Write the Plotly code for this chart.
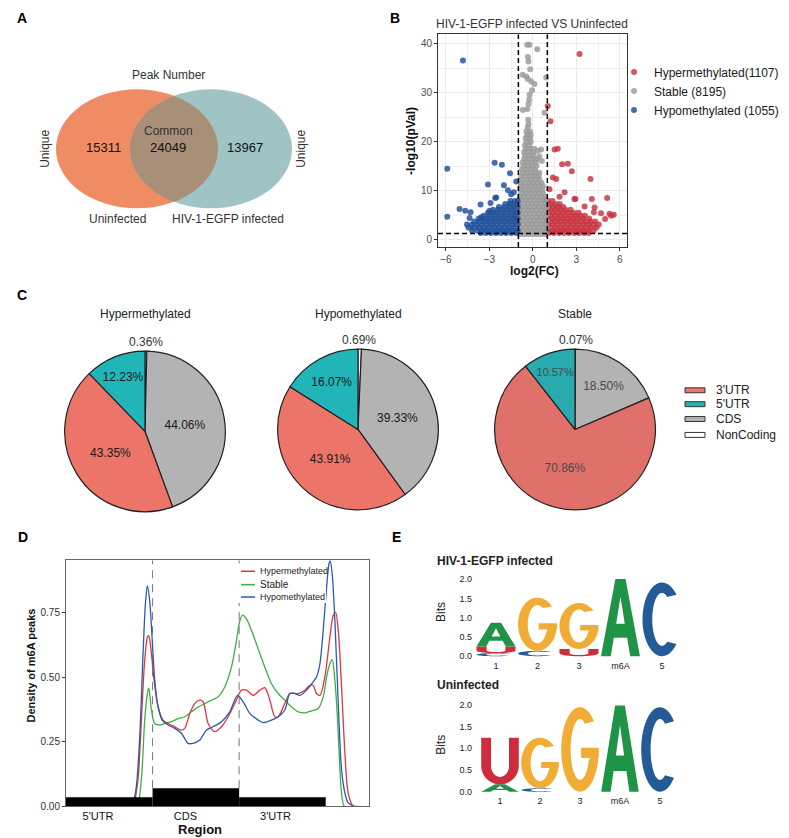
import numpy as np
import plotly.graph_objects as go

W, H = 789, 838
FONT = "Arial, Liberation Sans, sans-serif"

# ---------------- A: Venn (peak numbers) ----------------
venn_sets = ["Uninfected", "HIV-1-EGFP infected"]
venn_counts = [15311, 24049, 13967]  # unique uninfected, common, unique infected

# ---------------- B: volcano ----------------
volcano_groups = ["Hypermethylated", "Stable", "Hypomethylated"]
volcano_counts = [1107, 8195, 1055]
fc_cut = 1.0
p_cut = 1.3

hyper_rows = [
    (1.4, [1.1, 1.45, 1.8, 2.15, 2.5, 2.85, 3.2, 3.55, 3.85]),
    (1.9, [1.05, 1.4, 1.75, 2.1, 2.45, 2.8, 3.15, 3.5, 3.85, 4.2]),
    (2.5, [1.2, 1.55, 1.9, 2.25, 2.6, 2.95, 3.3, 3.65, 4.0, 4.4]),
    (3.1, [1.05, 1.4, 1.75, 2.1, 2.45, 2.8, 3.15, 3.5, 3.85, 4.2, 4.55]),
    (3.7, [1.15, 1.5, 1.85, 2.2, 2.55, 2.9, 3.25, 3.6, 3.95, 4.3]),
    (4.3, [1.05, 1.4, 1.75, 2.1, 2.45, 2.8, 3.15, 3.5, 3.9]),
    (4.9, [1.2, 1.55, 1.9, 2.25, 2.6, 2.95, 3.3, 3.6]),
    (5.5, [1.05, 1.4, 1.75, 2.1, 2.45, 2.8, 3.15]),
    (6.1, [1.2, 1.55, 1.9, 2.25, 2.6]),
    (6.7, [1.05, 1.4, 1.75, 2.1]),
    (7.3, [1.2, 1.55, 1.85]),
    (7.9, [1.05, 1.35]),
]
hyper_out_x = [3.22, 1.03, 1.22, 1.5, 1.72, 2.02, 2.41, 2.69, 1.38, 1.61, 3.98, 1.15, 2.19,
               2.87, 4.07, 5.13, 3.57, 4.26, 4.71, 5.29, 5.59, 4.99, 1.84, 2.94, 5.4, 4.21]
hyper_out_y = [37.9, 27.3, 24.2, 18.4, 18.6, 15.4, 15.5, 14.0, 12.7, 12.4, 12.4, 10.3, 9.7,
               8.3, 8.3, 8.5, 6.8, 6.6, 5.4, 5.3, 5.1, 4.25, 8.8, 8.3, 4.9, 5.6]

hypo_rows = [
    (1.4, [-3.6, -3.25, -2.9, -2.55, -2.2, -1.85, -1.5, -1.15]),
    (1.9, [-4.2, -3.85, -3.5, -3.15, -2.8, -2.45, -2.1, -1.75, -1.4, -1.05]),
    (2.5, [-4.45, -4.1, -3.75, -3.4, -3.05, -2.7, -2.35, -2.0, -1.65, -1.3]),
    (3.1, [-4.55, -4.2, -3.85, -3.5, -3.15, -2.8, -2.45, -2.1, -1.75, -1.4, -1.05]),
    (3.7, [-4.05, -3.7, -3.35, -3.0, -2.65, -2.3, -1.95, -1.6, -1.25]),
    (4.3, [-3.75, -3.4, -3.05, -2.7, -2.35, -2.0, -1.65, -1.3, -1.05]),
    (4.9, [-3.4, -3.05, -2.7, -2.35, -2.0, -1.65, -1.3]),
    (5.5, [-3.1, -2.75, -2.4, -2.05, -1.7, -1.35, -1.05]),
    (6.1, [-2.75, -2.4, -2.05, -1.7, -1.35]),
    (6.7, [-2.35, -2.0, -1.65, -1.3, -1.05]),
    (7.3, [-1.9, -1.6, -1.3]),
    (7.9, [-1.55, -1.25, -1.05]),
]
hypo_out_x = [-4.83, -5.91, -5.91, -5.06, -4.67, -4.30, -4.37, -3.10, -2.60, -2.64, -2.14,
              -2.0, -1.72, -1.58, -1.31, -1.15, -3.61, -2.92, -2.53, -1.50, -3.57, -2.99]
hypo_out_y = [36.6, 14.5, 4.7, 6.3, 5.9, 5.6, 4.45, 11.3, 8.5, 15.7, 15.3,
              11.1, 10.1, 13.6, 9.7, 11.9, 7.2, 7.5, 8.6, 9.3, 4.6, 5.9]

stable_rows = [
    (1.1, [-0.9, -0.6, -0.3, 0.0, 0.3, 0.6, 0.9]),
    (1.8, [-0.95, -0.65, -0.35, -0.05, 0.25, 0.55, 0.85]),
    (2.5, [-0.8, -0.5, -0.2, 0.1, 0.4, 0.7, 0.95]),
    (3.2, [-0.95, -0.65, -0.35, -0.05, 0.25, 0.55, 0.85]),
    (3.9, [-0.8, -0.5, -0.2, 0.1, 0.4, 0.7, 0.95]),
    (4.6, [-0.95, -0.65, -0.35, -0.05, 0.25, 0.55, 0.85]),
    (5.3, [-0.8, -0.5, -0.2, 0.1, 0.4, 0.7, 0.95]),
    (6.0, [-0.95, -0.65, -0.35, -0.05, 0.25, 0.55, 0.85]),
    (6.7, [-0.8, -0.5, -0.2, 0.1, 0.4, 0.7, 0.95]),
    (7.4, [-0.95, -0.65, -0.35, -0.05, 0.25, 0.55, 0.85]),
    (8.1, [-0.8, -0.5, -0.2, 0.1, 0.4, 0.7, 0.9]),
    (8.8, [-0.9, -0.6, -0.3, 0.0, 0.3, 0.6, 0.85]),
    (9.5, [-0.8, -0.5, -0.2, 0.1, 0.4, 0.7]),
    (10.2, [-0.85, -0.55, -0.25, 0.05, 0.35, 0.65]),
    (10.9, [-0.8, -0.5, -0.2, 0.1, 0.4, 0.7]),
    (11.6, [-0.85, -0.55, -0.25, 0.05, 0.35, 0.6]),
    (12.3, [-0.75, -0.45, -0.15, 0.15, 0.45]),
    (13.0, [-0.8, -0.5, -0.2, 0.1, 0.4]),
    (13.7, [-0.7, -0.4, -0.1, 0.2, 0.45]),
    (14.4, [-0.75, -0.45, -0.15, 0.15]),
    (15.1, [-0.65, -0.35, -0.05, 0.25]),
    (15.8, [-0.7, -0.4, -0.1, 0.2]),
    (16.5, [-0.6, -0.3, 0.0, 0.3]),
    (17.2, [-0.55, -0.25, 0.05]),
    (17.9, [-0.6, -0.3, 0.0]),
    (18.6, [-0.5, -0.2, 0.1]),
    (19.3, [-0.55, -0.25]),
    (20.0, [-0.45, -0.15]),
    (20.7, [-0.5, -0.2]),
    (21.4, [-0.4, -0.15]),
    (22.1, [-0.45, -0.2]),
    (22.9, [-0.35]),
    (23.6, [-0.3]),
]
stable_out_x = [-0.39, -0.23, 0.30, -0.34, -0.30, -0.19, -0.71, -0.46, -0.34, -0.11, 0.11, 0.92,
                -0.23, -0.25, -0.30, -0.69, -0.37, 0.80, -0.32, 0.57, 0.34, -0.05, 0.62, 0.45]
stable_out_y = [39.8, 39.8, 38.9, 37.3, 36.4, 34.8, 33.7, 33.3, 32.8, 32.3, 31.8, 33.1,
                29.6, 28.6, 27.7, 26.5, 26.7, 25.9, 24.5, 18.4, 18.1, 30.5, 16.1, 17.0]

# ---------------- C: pies ----------------
pie_titles = ["Hypermethylated", "Hypomethylated", "Stable"]
pie_labels = ["NonCoding", "CDS", "3'UTR", "5'UTR"]
pie_hyper = [0.36, 44.06, 43.35, 12.23]
pie_hypo = [0.69, 39.33, 43.91, 16.07]
pie_stable = [0.07, 18.50, 70.86, 10.57]
pie_legend = ["3'UTR", "5'UTR", "CDS", "NonCoding"]

# ---------------- D: metagene density ----------------
region_labels = ["5'UTR", "CDS", "3'UTR"]
dens_hyper_x = [0.786, 0.832, 0.871, 0.909, 0.940, 0.956, 0.979, 1.017, 1.064, 1.121, 1.179, 1.256,
                1.333, 1.372, 1.430, 1.487, 1.545, 1.584, 1.642, 1.719, 1.796, 1.873, 1.950, 2.027,
                2.085, 2.162, 2.239, 2.297, 2.355, 2.412, 2.451, 2.528, 2.586, 2.682, 2.759, 2.817,
                2.855, 2.894, 2.933, 2.990, 3.048, 3.087, 3.114, 3.145, 3.183, 3.222, 3.260, 3.318, 3.41]
dens_hyper_y = [0, 0.103, 0.334, 0.565, 0.655, 0.662, 0.617, 0.488, 0.385, 0.334, 0.321, 0.308,
                0.295, 0.302, 0.360, 0.398, 0.411, 0.405, 0.321, 0.289, 0.308, 0.347, 0.398, 0.450,
                0.450, 0.430, 0.450, 0.460, 0.411, 0.347, 0.347, 0.398, 0.437, 0.437, 0.450, 0.469,
                0.469, 0.437, 0.430, 0.501, 0.655, 0.739, 0.751, 0.681, 0.462, 0.206, 0.051, 0, 0]
dens_stable_x = [0.840, 0.879, 0.909, 0.940, 0.956, 0.987, 1.025, 1.083, 1.141, 1.218, 1.295, 1.372,
                 1.449, 1.526, 1.603, 1.680, 1.757, 1.834, 1.911, 1.969, 2.008, 2.039, 2.085, 2.143,
                 2.220, 2.297, 2.374, 2.451, 2.528, 2.605, 2.682, 2.759, 2.836, 2.914, 2.971, 3.010,
                 3.048, 3.075, 3.106, 3.137, 3.164, 3.183, 3.214, 3.30]
dens_stable_y = [0, 0.141, 0.334, 0.437, 0.459, 0.373, 0.321, 0.315, 0.321, 0.328, 0.340, 0.347,
                 0.366, 0.385, 0.398, 0.411, 0.424, 0.462, 0.539, 0.642, 0.719, 0.741, 0.726, 0.681,
                 0.610, 0.539, 0.475, 0.437, 0.411, 0.385, 0.366, 0.362, 0.370, 0.379, 0.424, 0.501,
                 0.552, 0.568, 0.488, 0.334, 0.141, 0.051, 0, 0]
dens_hypo_x = [0.771, 0.813, 0.852, 0.890, 0.917, 0.940, 0.967, 0.994, 1.025, 1.064, 1.110, 1.179,
               1.256, 1.333, 1.410, 1.468, 1.545, 1.622, 1.699, 1.796, 1.892, 1.981, 2.046, 2.123,
               2.220, 2.277, 2.374, 2.451, 2.528, 2.586, 2.644, 2.701, 2.778, 2.855, 2.894, 2.933,
               2.971, 3.010, 3.037, 3.052, 3.075, 3.106, 3.145, 3.183, 3.222, 3.260, 3.337, 3.38]
dens_hypo_y = [0, 0.077, 0.270, 0.591, 0.784, 0.854, 0.796, 0.655, 0.488, 0.385, 0.334, 0.315,
               0.302, 0.283, 0.244, 0.244, 0.257, 0.295, 0.308, 0.328, 0.366, 0.430, 0.405, 0.360,
               0.334, 0.324, 0.334, 0.347, 0.373, 0.437, 0.437, 0.430, 0.450, 0.482, 0.501, 0.552,
               0.681, 0.848, 0.938, 0.951, 0.899, 0.719, 0.398, 0.141, 0.051, 0.013, 0, 0]

# ---------------- E: motif logos ----------------
logo_positions = ["1", "2", "3", "m6A", "5"]
hiv_letters = [["C", "U", "A"], ["C", "G"], ["U", "G"], ["A"], ["C"]]
hiv_bits = [[0.08, 0.17, 0.62], [0.14, 1.38], [0.19, 1.19], [2.0], [1.91]]
uninf_letters = [["A", "U"], ["C", "G"], ["G"], ["A"], ["C"]]
uninf_bits = [[0.17, 1.07], [0.08, 1.16], [1.94], [1.98], [1.94]]


def px(x):
    return x / W


def py(y):
    return 1 - y / H


def note(text, x, y, size=12, color="#222222", bold=False, xanchor="center", angle=0):
    return dict(text=f"<b>{text}</b>" if bold else text, x=px(x), y=py(y), xref="paper", yref="paper",
                showarrow=False, xanchor=xanchor, yanchor="middle", textangle=angle,
                font=dict(size=size, color=color, family=FONT))


def flatten(rows, extra_x, extra_y):
    xs, ys = [], []
    for y, row in rows:
        xs += row
        ys += [y] * len(row)
    return xs + extra_x, ys + extra_y


fig = go.Figure()
annotations = []
shapes = []

# ---- A: Venn
vl = dict(x0=48, x1=210, y0=81, y1=201)
vr = dict(x0=122, x1=284, y0=81, y1=201)
for e, col in [(vl, "#F08C64"), (vr, "#A0C4C4")]:
    shapes.append(dict(type="circle", xref="paper", yref="paper", x0=px(e["x0"]), x1=px(e["x1"]),
                       y0=py(e["y1"]), y1=py(e["y0"]), fillcolor=col, line=dict(width=0), layer="below"))
# lens = intersection of the two ellipses
rx, ry = (vl["x1"] - vl["x0"]) / 2, (vl["y1"] - vl["y0"]) / 2
lcx, rcx, cy = (vl["x0"] + vl["x1"]) / 2, (vr["x0"] + vr["x1"]) / 2, (vl["y0"] + vl["y1"]) / 2
t = np.degrees(np.arccos((rcx - lcx) / 2 / rx))
ta = np.radians(np.linspace(180 - t, 180 + t, 40))
tb = np.radians(np.linspace(-t, t, 40))
lens = list(zip(rcx + rx * np.cos(ta), cy - ry * np.sin(ta))) + list(zip(lcx + rx * np.cos(tb), cy - ry * np.sin(tb)))
lens_path = "M " + " L ".join(f"{px(a):.5f},{py(b):.5f}" for a, b in lens) + " Z"
shapes.append(dict(type="path", xref="paper", yref="paper", path=lens_path, fillcolor="#A88F78",
                   line=dict(width=0), layer="below"))
annotations += [
    note("Peak Number", 160, 67, 12, "#333333"),
    note("Common", 160, 123, 12, "#333333"),
    note(str(venn_counts[0]), 95, 140, 13, "#111111"),
    note(str(venn_counts[1]), 160, 140, 13, "#111111"),
    note(str(venn_counts[2]), 237, 140, 13, "#111111"),
    note("Unique", 37, 141, 12, "#333333", angle=-90),
    note("Unique", 293, 141, 12, "#333333", angle=-90),
    note(venn_sets[0], 110, 212, 12, "#333333"),
    note(venn_sets[1], 220, 212, 12, "#333333"),
]

# ---- B: volcano
hx, hy = flatten(hyper_rows, hyper_out_x, hyper_out_y)
sx, sy = flatten(stable_rows, stable_out_x, stable_out_y)
ox, oy = flatten(hypo_rows, hypo_out_x, hypo_out_y)
volc_names = [f"{volcano_groups[0]}({volcano_counts[0]})", f"{volcano_groups[1]} ({volcano_counts[1]})",
              f"{volcano_groups[2]} ({volcano_counts[2]})"]
for name, xs, ys, col in [(volc_names[0], hx, hy, "#C9323F"), (volc_names[1], sx, sy, "#9A9A9A"),
                          (volc_names[2], ox, oy, "#1F4F98")]:
    fig.add_trace(go.Scatter(x=xs, y=ys, mode="markers", name=name, xaxis="x", yaxis="y",
                             marker=dict(color=col, size=6, opacity=0.82), hoverinfo="skip"))
for xv in (-fc_cut, fc_cut):
    shapes.append(dict(type="line", xref="x", yref="y domain", x0=xv, x1=xv, y0=0, y1=1,
                       line=dict(color="black", width=1.5, dash="5px,3px")))
shapes.append(dict(type="line", xref="x domain", yref="y", x0=0, x1=1, y0=p_cut, y1=p_cut,
                   line=dict(color="black", width=1.5, dash="5px,3px")))
annotations += [
    note("HIV-1-EGFP infected VS Uninfected", 524, 15, 12, "#333333"),
    note("-log10(pVal)", 403, 133, 12, "#111111", bold=True, angle=-90),
    note("log2(FC)", 526, 264, 12, "#111111", bold=True),
]

# ---- C: pies
pie_boxes = [(56, 218, 345, 507), (269, 431, 343, 505), (486, 648, 343, 505)]
pie_cols = [["#FFFFFF", "#B3B3B3", "#EC7468", "#21B5B8"],
            ["#FFFFFF", "#B3B3B3", "#EC7468", "#21B5B8"],
            ["#FFFFFF", "#B3B3B3", "#E0706A", "#28AAAE"]]
pie_text = ["#1A1A1A", "#1A1A1A", "#4A4A4A"]
for vals, title, (x0, x1, y0, y1), cols, tcol in zip([pie_hyper, pie_hypo, pie_stable], pie_titles,
                                                     pie_boxes, pie_cols, pie_text):
    fig.add_trace(go.Pie(labels=pie_labels, values=vals, sort=False, direction="clockwise", rotation=0,
                         domain=dict(x=[px(x0), px(x1)], y=[py(y1), py(y0)]),
                         marker=dict(colors=cols, line=dict(color="#231F20", width=1.2)),
                         texttemplate="%{value:.2f}%", textposition=["none", "inside", "inside", "inside"],
                         insidetextorientation="horizontal",
                         textfont=dict(size=12, color=tcol, family=FONT),
                         showlegend=False, hoverinfo="skip"))
    annotations.append(note(title, (x0 + x1) / 2, 308, 12, "#222222"))
    # the tiny NonCoding slice sits at 12 o'clock; its label goes just above the pie
    annotations.append(note(f"{vals[0]:.2f}%", (x0 + x1) / 2 + 1, y0 - 9, 12, "#333333"))
leg_cols = {"3'UTR": "#EC7468", "5'UTR": "#21B5B8", "CDS": "#B3B3B3", "NonCoding": "#FFFFFF"}
for lab, yc in zip(pie_legend, [384.5, 398.5, 413.5, 429.5]):
    shapes.append(dict(type="rect", xref="paper", yref="paper", x0=px(677), x1=px(697),
                       y0=py(yc + 2.5), y1=py(yc - 2.5), fillcolor=leg_cols[lab],
                       line=dict(color="#333333", width=1)))
    annotations.append(note(lab, 706, yc, 12, "#222222", xanchor="left"))

# ---- D: density
d_cols = {"Hypermethylated": "#E0353F", "Stable": "#3CB043", "Hypomethylated": "#2A5CAA"}
for name, xs, ys in [("Stable", dens_stable_x, dens_stable_y), ("Hypermethylated", dens_hyper_x, dens_hyper_y),
                     ("Hypomethylated", dens_hypo_x, dens_hypo_y)]:
    fig.add_trace(go.Scatter(x=xs, y=ys, mode="lines", xaxis="x2", yaxis="y2", showlegend=False,
                             line=dict(color=d_cols[name], width=1.3, shape="spline", smoothing=0.8),
                             hoverinfo="skip"))
for xv in (1, 2):
    shapes.append(dict(type="line", xref="x2", yref="y2", x0=xv, x1=xv, y0=0.07, y1=0.953,
                       line=dict(color="#777777", width=1, dash="8px,6px"), layer="below"))
for i, hgt in enumerate([0.035, 0.07, 0.035]):
    shapes.append(dict(type="rect", xref="x2", yref="y2", x0=i, x1=i + 1, y0=0, y1=hgt,
                       fillcolor="black", line=dict(width=0)))
shapes.append(dict(type="rect", xref="paper", yref="paper", x0=px(229), x1=px(318), y0=py(599), y1=py(559),
                   fillcolor="white", line=dict(width=0)))
for name, yc, fs in [("Hypermethylated", 567, 9), ("Stable", 580.5, 10), ("Hypomethylated", 593, 9)]:
    shapes.append(dict(type="line", xref="paper", yref="paper", x0=px(233), x1=px(247), y0=py(yc), y1=py(yc),
                       line=dict(color=d_cols[name], width=1.5)))
    annotations.append(note(name, 250, yc, fs, "#222222", xanchor="left"))
annotations += [
    note("Density of m6A peaks", 23, 662, 11, "#111111", bold=True, angle=-90),
    note("Region", 192, 827, 13, "#111111", bold=True),
]

# ---- E: logos
LETTER_COL = {"A": "#1F9447", "C": "#245A96", "G": "#F0AC34", "U": "#CD2D3C"}


def arc(cx, cy, rx_, ry_, a0, a1, n=36):
    a = np.radians(np.linspace(a0, a1, n))
    return np.column_stack([cx + rx_ * np.cos(a), cy + ry_ * np.sin(a)])


def glyph(ch):
    if ch == "A":
        return [np.array([(0, 0), (0.37, 1), (0.63, 1), (1, 0), (0.75, 0), (0.67, 0.24), (0.33, 0.24), (0.25, 0)]),
                np.array([(0.39, 0.42), (0.61, 0.42), (0.5, 0.77)])]
    if ch == "C":
        return [np.vstack([arc(0.5, 0.5, 0.5, 0.5, 42, 318), arc(0.5, 0.5, 0.25, 0.36, 302, 58)])]
    if ch == "G":
        bar = np.array([(1.0, 0.41), (1.0, 0.52), (0.53, 0.52), (0.53, 0.40), (0.76, 0.40)])
        return [np.vstack([arc(0.5, 0.5, 0.5, 0.5, 42, 350), bar, arc(0.5, 0.5, 0.25, 0.36, 335, 58)])]
    # U
    return [np.vstack([[(0, 1)], arc(0.5, 0.4, 0.5, 0.4, 180, 360), [(1, 1), (0.74, 1)],
                       arc(0.5, 0.4, 0.24, 0.24, 360, 180), [(0.26, 1)]])]


def letter_shape(ch, xc, y0, h, xref, yref, w=0.94):
    parts = []
    for poly in glyph(ch):
        xs = xc + (poly[:, 0] - 0.5) * w
        ys = y0 + poly[:, 1] * h
        parts.append("M " + " L ".join(f"{a:.4f},{b:.4f}" for a, b in zip(xs, ys)) + " Z")
    return dict(type="path", path=" ".join(parts), xref=xref, yref=yref, fillcolor=LETTER_COL[ch],
                line=dict(width=0), layer="above")


for letters, bits, ax in [(hiv_letters, hiv_bits, "3"), (uninf_letters, uninf_bits, "4")]:
    fig.add_trace(go.Scatter(x=[1, 5], y=[0, 0], mode="markers", marker=dict(opacity=0),
                             xaxis="x" + ax, yaxis="y" + ax, showlegend=False, hoverinfo="skip"))
    for i, (col_letters, col_bits) in enumerate(zip(letters, bits)):
        base = 0.0
        for ch, b in zip(col_letters, col_bits):
            shapes.append(letter_shape(ch, i + 1, base, b, "x" + ax, "y" + ax))
            base += b
annotations += [
    note("HIV-1-EGFP infected", 427, 557, 12, "#222222", bold=True, xanchor="left"),
    note("Uninfected", 427, 682, 12, "#222222", bold=True, xanchor="left"),
    note("Bits", 433, 608, 12, "#222222", angle=-90),
    note("Bits", 433, 742, 12, "#222222", angle=-90),
]

# ---- panel letters
for lab, x, y in [("A", 7, 9), ("B", 380, 9), ("C", 7, 288), ("D", 8, 532), ("E", 382, 532)]:
    annotations.append(note(lab, x, y, 14, "#000000", bold=True, xanchor="left"))

grid = dict(showgrid=True, gridcolor="#EBEBEB", gridwidth=1.3, zeroline=False, showline=True, mirror=True,
            linecolor="#333333", linewidth=1, ticks="outside", ticklen=3, tickcolor="#333333",
            tickfont=dict(size=10, color="#4D4D4D", family=FONT))
logo_x = dict(showgrid=False, zeroline=False, showline=False, ticks="", tickmode="array",
              tickvals=[1, 2, 3, 4, 5], ticktext=logo_positions, tickfont=dict(size=9, color="#222222", family=FONT))
logo_y = dict(showgrid=False, zeroline=False, showline=False, ticks="", range=[-0.06, 2.1],
              tickvals=[0, 0.5, 1.0, 1.5, 2.0], ticktext=["0.0", "0.5", "1.0", "1.5", "2.0"],
              tickfont=dict(size=9, color="#222222", family=FONT))

fig.update_layout(
    width=W, height=H, margin=dict(l=0, r=0, t=0, b=0),
    paper_bgcolor="white", plot_bgcolor="white",
    font=dict(family=FONT, color="#222222"),
    xaxis=dict(domain=[px(430), px(619)], range=[-6.55, 6.5], anchor="y", tickvals=[-6, -3, 0, 3, 6],
               minor=dict(dtick=1.5, tick0=0, showgrid=True, gridcolor="#F0F0F0", gridwidth=0.8, ticks=""),
               **grid),
    yaxis=dict(domain=[py(240), py(25.7)], range=[-1.48, 41.9], anchor="x", tickvals=[0, 10, 20, 30, 40],
               minor=dict(dtick=5, tick0=0, showgrid=True, gridcolor="#F0F0F0", gridwidth=0.8, ticks=""),
               **grid),
    xaxis2=dict(domain=[px(58), px(361)], range=[0, 3.5], anchor="y2", showgrid=False, zeroline=False,
                showline=True, mirror=True, linecolor="#666666", linewidth=1, ticks="",
                tickvals=[0.37, 1.38, 2.42], ticktext=region_labels,
                tickfont=dict(size=11, color="#111111", family=FONT)),
    yaxis2=dict(domain=[py(804), py(556)], range=[0, 0.953], anchor="x2", showgrid=False, zeroline=False,
                showline=True, mirror=True, linecolor="#666666", linewidth=1, ticks="outside", ticklen=3,
                tickcolor="#333333", tickvals=[0, 0.25, 0.5, 0.75], ticktext=["0.00", "0.25", "0.50", "0.75"],
                tickfont=dict(size=10, color="#333333", family=FONT)),
    xaxis3=dict(domain=[px(465), px(680)], range=[0.446, 5.627], anchor="y3", **logo_x),
    yaxis3=dict(domain=[py(655), py(571)], anchor="x3", **logo_y),
    xaxis4=dict(domain=[px(465), px(680)], range=[0.325, 5.7], anchor="y4", **logo_x),
    yaxis4=dict(domain=[py(792), py(697)], anchor="x4", **logo_y),
    legend=dict(x=px(606), y=py(49), xanchor="left", yanchor="top", bgcolor="rgba(0,0,0,0)",
                font=dict(size=12, color="#1A1A1A", family=FONT), tracegroupgap=0),
    annotations=annotations,
    shapes=shapes,
)

fig.write_html("out.html")
